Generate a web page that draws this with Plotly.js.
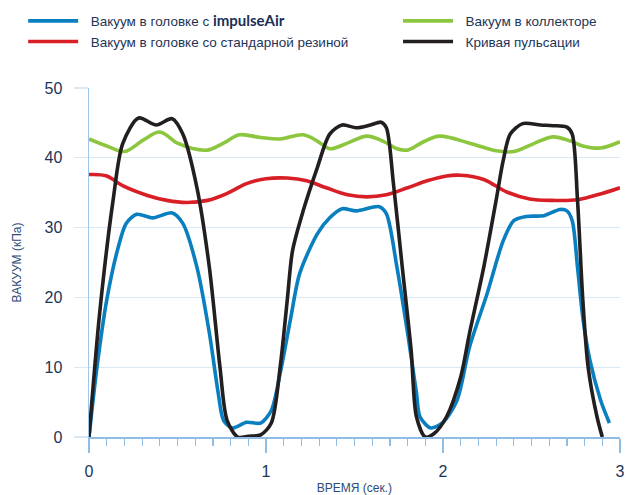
<!DOCTYPE html>
<html>
<head>
<meta charset="utf-8">
<script src="https://cdn.plot.ly/plotly-3.0.1.min.js"></script>
<style>html,body{margin:0;padding:0;background:#fff;}#chart{width:626px;height:495px;}</style>
</head>
<body>
<div id="chart"></div>
<script>
// Series names
const nameImpulse = 'Вакуум в головке с <span style="font-family:Lato;font-weight:bold;font-size:15px;color:#1b2f55">impulseAir</span>';
const nameStandard = 'Вакуум в головке со стандарной резиной';
const nameCollector = 'Вакуум в коллекторе';
const namePulse = 'Кривая пульсации';

// Pulsation curve (black)
const pulseT = [0, 0.06, 0.136, 0.19, 0.28, 0.38, 0.47, 0.53, 0.61, 0.68, 0.74, 0.78, 0.84, 0.90, 0.97, 1.03, 1.08, 1.12, 1.15, 1.21, 1.29, 1.36, 1.43, 1.51, 1.59, 1.65, 1.68, 1.72, 1.77, 1.82, 1.85, 1.90, 1.95, 2.02, 2.10, 2.15, 2.23, 2.30, 2.34, 2.38, 2.45, 2.55, 2.62, 2.70, 2.73, 2.76, 2.79, 2.82, 2.87, 2.90];
const pulseV = [0, 17.7, 33.9, 42.0, 45.7, 44.7, 45.6, 43.4, 35.7, 24.3, 10.0, 2.4, 0, 0.1, 0.3, 2.0, 10.0, 19.6, 26.7, 32.4, 38.6, 43.4, 44.7, 44.3, 44.7, 45.1, 44.3, 36.3, 24.3, 12.4, 2.9, 0, 0.5, 2.9, 8.6, 14.9, 24.3, 33.9, 39.6, 43.4, 44.9, 44.7, 44.6, 44.4, 43.4, 33.9, 19.6, 10.0, 2.9, 0];

// Head vacuum with impulseAir (blue)
const impulseT = [0, 0.045, 0.10, 0.16, 0.21, 0.27, 0.36, 0.47, 0.53, 0.61, 0.68, 0.73, 0.76, 0.81, 0.89, 0.97, 1.03, 1.08, 1.14, 1.19, 1.29, 1.36, 1.43, 1.51, 1.64, 1.68, 1.74, 1.80, 1.85, 1.87, 1.93, 2.00, 2.08, 2.15, 2.25, 2.34, 2.40, 2.47, 2.57, 2.66, 2.70, 2.73, 2.76, 2.79, 2.83, 2.89, 2.94];
const impulseV = [0, 10.0, 19.6, 26.7, 30.6, 31.9, 31.4, 32.1, 30.6, 24.3, 14.9, 6.3, 2.4, 1.3, 2.1, 2.0, 3.8, 9.1, 17.1, 23.4, 29.1, 31.4, 32.7, 32.4, 33.0, 32.0, 24.3, 14.9, 6.3, 2.9, 1.3, 2.1, 5.3, 12.9, 20.6, 28.1, 31.0, 31.6, 31.7, 32.6, 32.4, 31.0, 24.3, 17.1, 11.0, 5.3, 2.0];

// Collector vacuum (green)
const collectorT = [0, 0.10, 0.20, 0.31, 0.40, 0.50, 0.59, 0.67, 0.76, 0.85, 0.97, 1.08, 1.21, 1.29, 1.36, 1.46, 1.57, 1.66, 1.74, 1.80, 1.89, 1.98, 2.15, 2.30, 2.40, 2.51, 2.62, 2.72, 2.79, 2.89, 3.0];
const collectorV = [42.7, 41.7, 40.9, 42.6, 43.7, 42.1, 41.3, 41.1, 42.1, 43.3, 42.9, 42.7, 43.3, 42.4, 41.3, 42.1, 43.1, 42.4, 41.3, 41.1, 42.3, 43.1, 42.1, 41.0, 40.9, 42.0, 43.0, 42.4, 41.7, 41.4, 42.3];

// Head vacuum with standard liner (red)
const standardT = [0, 0.10, 0.19, 0.33, 0.44, 0.55, 0.67, 0.78, 0.89, 1.0, 1.12, 1.23, 1.34, 1.46, 1.57, 1.68, 1.80, 1.91, 2.02, 2.10, 2.23, 2.36, 2.49, 2.62, 2.76, 2.90, 3.0];
const standardV = [37.6, 37.4, 36.0, 34.6, 33.9, 33.6, 33.9, 34.9, 36.3, 37.0, 37.1, 36.7, 35.7, 34.7, 34.4, 34.7, 35.7, 36.7, 37.4, 37.5, 36.9, 35.1, 34.1, 33.9, 34.0, 34.9, 35.7];

// Axis ticks
const xTicks = [0, 1, 2, 3];
const yTicks = [0, 10, 20, 30, 40, 50];

const pad = '\u00A0\u00A0';
const lw = 3.6;
const traces = [
  {x: collectorT, y: collectorV, name: pad + nameCollector, legend: 'legend2', legendrank: 1,
   mode: 'lines', line: {color: '#8cc63f', width: lw, shape: 'spline', smoothing: 1}},
  {x: standardT, y: standardV, name: pad + nameStandard, legend: 'legend', legendrank: 2,
   mode: 'lines', line: {color: '#d91f26', width: lw, shape: 'spline', smoothing: 1}},
  {x: impulseT, y: impulseV, name: pad + nameImpulse, legend: 'legend', legendrank: 1,
   mode: 'lines', line: {color: '#0a7fbf', width: lw, shape: 'spline', smoothing: 0.8}},
  {x: pulseT, y: pulseV, name: pad + namePulse, legend: 'legend2', legendrank: 2,
   mode: 'lines', line: {color: '#231f20', width: lw, shape: 'spline', smoothing: 0.8}}
];
traces.forEach((t, i) => { t.legendgroup = 'g' + i; t.hoverinfo = 'x+y'; });

const tickFont = {family: 'Liberation Sans, Arial, sans-serif', size: 16, color: '#1d3457'};
const legFont = {family: 'Liberation Sans, Arial, sans-serif', size: 13.5, color: '#1d3457'};

const layout = {
  width: 626, height: 495,
  margin: {l: 89, r: 6, t: 88, b: 58},
  paper_bgcolor: '#ffffff', plot_bgcolor: '#ffffff',
  showlegend: true,
  legend: {x: -0.124, y: 1.236, xanchor: 'left', yanchor: 'top', orientation: 'v',
           font: legFont, itemwidth: 50, tracegroupgap: 8, bgcolor: 'rgba(0,0,0,0)', traceorder: 'normal'},
  legend2: {x: 0.582, y: 1.236, xanchor: 'left', yanchor: 'top', orientation: 'v',
           font: legFont, itemwidth: 50, tracegroupgap: 8, bgcolor: 'rgba(0,0,0,0)', traceorder: 'normal'},
  xaxis: {
    range: [0, 3], tickvals: xTicks, ticktext: xTicks.map(String),
    showgrid: false, zeroline: false,
    showline: true, linecolor: '#8fbde6', linewidth: 2,
    ticks: 'outside', ticklen: 14, tickwidth: 1.5, tickcolor: '#8fbde6',
    minor: {dtick: 0.1, ticks: 'outside', ticklen: 7, tickwidth: 1.2, tickcolor: '#8fbde6', showgrid: false},
    tickfont: tickFont, ticklabelstandoff: 5,
    title: {text: 'ВРЕМЯ (сек.)', font: {family: 'Liberation Sans, Arial, sans-serif', size: 12, color: '#2b4b78'}, standoff: 4},
    fixedrange: true
  },
  yaxis: {
    range: [0, 50], tickvals: yTicks, ticktext: yTicks.map(String),
    showgrid: true, gridcolor: '#d9e8f6', gridwidth: 1.2, zeroline: false,
    showline: true, linecolor: '#9cc6ea', linewidth: 1.5,
    ticks: 'outside', ticklen: 14, tickwidth: 1.2, tickcolor: '#d9e8f6',
    tickfont: tickFont, ticklabelstandoff: 8,
    title: {text: 'ВАКУУМ (кПа)', font: {family: 'Liberation Sans, Arial, sans-serif', size: 12, color: '#2b4b78'}, standoff: 20},
    fixedrange: true
  }
};

Plotly.newPlot('chart', traces, layout, {displayModeBar: false, staticPlot: true});
</script>
</body>
</html>
